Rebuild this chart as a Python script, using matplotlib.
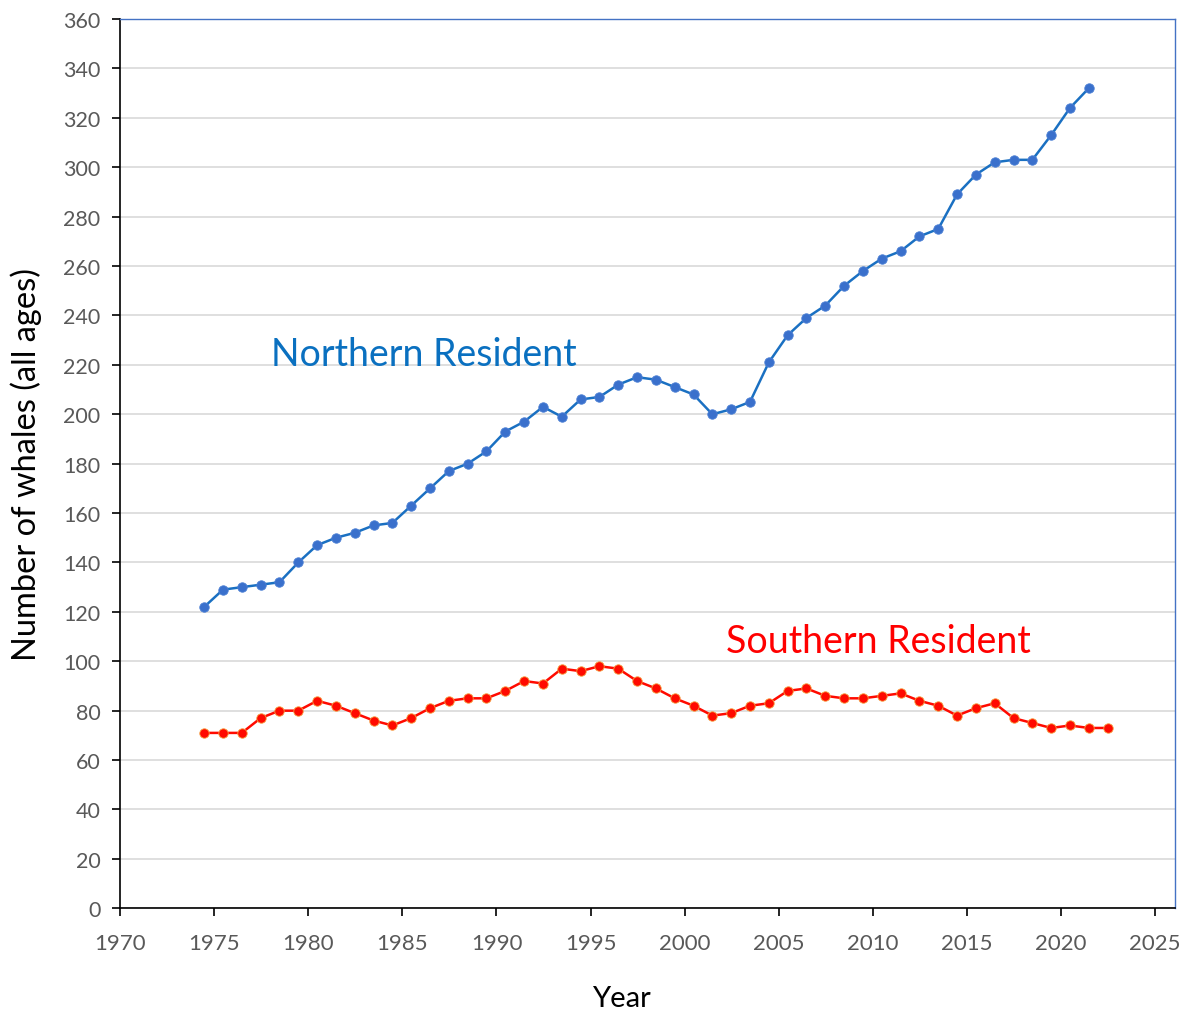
import matplotlib
matplotlib.use("Agg")
import matplotlib.pyplot as plt
import numpy as np

years_n = list(range(1974, 2022))
northern = [122, 129, 130, 131, 132, 140, 147, 150, 152, 155, 156, 163, 170, 177, 180, 185,
            193, 197, 203, 199, 206, 207, 212, 215, 214, 211, 208, 200, 202, 205, 221, 232,
            239, 244, 252, 258, 263, 266, 272, 275, 289, 297, 302, 303, 303, 313, 324, 332]
years_s = list(range(1974, 2023))
southern = [71, 71, 71, 77, 80, 80, 84, 82, 79, 76, 74, 77, 81, 84, 85, 85, 88, 92, 91, 97,
            96, 98, 97, 92, 89, 85, 82, 78, 79, 82, 83, 88, 89, 86, 85, 85, 86, 87, 84, 82,
            78, 81, 83, 77, 75, 73, 74, 73, 73]
x_ticks = [1970, 1975, 1980, 1985, 1990, 1995, 2000, 2005, 2010, 2015, 2020, 2025]
y_ticks = list(range(0, 361, 20))

FONT = ["Lato", "DejaVu Sans"]
plt.rcParams['font.family'] = FONT

fig = plt.figure(figsize=(11.98, 10.12), dpi=100)
ax = fig.add_axes([0.1002, 0.1015, 0.8806, 0.8787])

mid = 0.47
ax.plot(np.array(years_n) + mid, northern, color="#1a70c2", lw=1.8, marker="o",
        ms=6.8, mfc="#3a70cc", mec="#4a7fd4", mew=0.6, zorder=3)
ax.plot(np.array(years_s) + mid, southern, color="#ff0a00", lw=1.8, marker="o",
        ms=6.8, mfc="#ff0a00", mec="#f6a040", mew=0.6, zorder=3)

ax.set_xlim(1970, 2026.05)
ax.set_ylim(0, 360)
ax.set_xticks(x_ticks)
ax.set_yticks(y_ticks)
ax.grid(axis="y", color="#d9d9d9", lw=1.2, zorder=0)
ax.set_axisbelow(True)

for s in ["left", "bottom"]:
    ax.spines[s].set_color("black")
    ax.spines[s].set_linewidth(1.2)
for s in ["top", "right"]:
    ax.spines[s].set_color("#4472c4")
    ax.spines[s].set_linewidth(1.0)

ax.tick_params(axis="both", direction="out", length=6, width=1.2, color="black",
               labelcolor="#595959")
ax.tick_params(axis="x", pad=12, labelsize=16)
ax.tick_params(axis="y", pad=8, labelsize=15.5)

ax.set_ylabel("Number of whales (all ages)", fontsize=23.5, color="black")
ax.yaxis.set_label_coords(-0.074, 0.5)
ax.set_xlabel("Year", fontsize=21, color="black")
ax.xaxis.set_label_coords(0.4754, -0.086)

ax.text(1978.0, 224.5, "Northern Resident", color="#0a70c0", fontsize=27,
        va="center", ha="left")
ax.text(2002.2, 108.3, "Southern Resident", color="#ff0000", fontsize=27,
        va="center", ha="left")

fig.savefig("out.png", dpi=100, facecolor="white")
